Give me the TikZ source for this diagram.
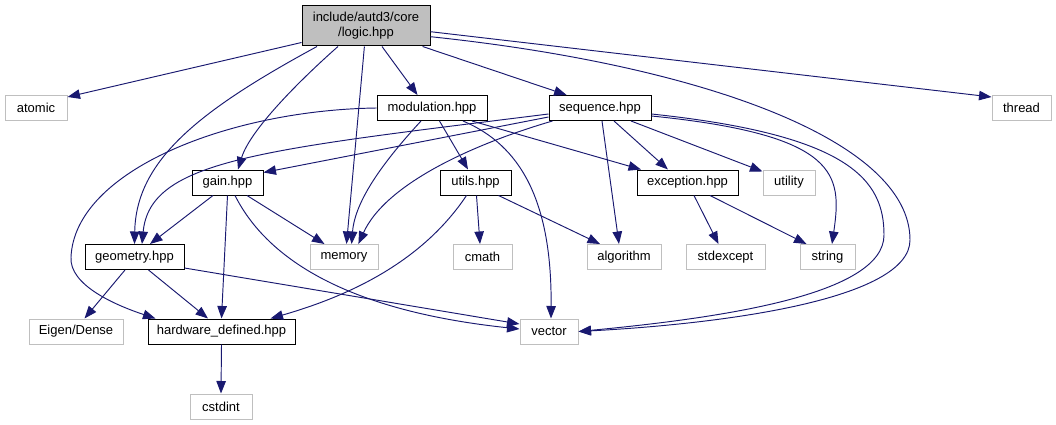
\documentclass[tikz,border=0pt]{standalone}
\usepackage{fontspec}
\setmainfont{Liberation Sans}
\usetikzlibrary{arrows.meta}
\definecolor{edgeblue}{HTML}{191970}
\definecolor{greyline}{HTML}{BFBFBF}
\begin{document}
\begin{tikzpicture}[x=1pt,y=-1pt,
  box/.style={draw=black, line width=1pt, fill=white, inner sep=0pt, minimum height=25pt, font=\fontsize{13}{15}\selectfont},
  sysbox/.style={box, draw=greyline},
  rootbox/.style={box, fill=greyline, minimum height=40pt, align=center},
  e/.style={draw=edgeblue, line width=0.95pt, -{Triangle[length=12.5pt,width=9.5pt]}}]
\useasboundingbox (0,0) rectangle (1056,425);
% nodes
\node[rootbox, minimum width=128pt] (logic) at (366,26) {include/autd3/core\\/logic.hpp};
\node[sysbox, minimum width=62pt] (atomic) at (36,108) {atomic};
\node[box, minimum width=110pt] (modulation) at (432,108) {modulation.hpp};
\node[box, minimum width=102pt] (sequence) at (600,108) {sequence.hpp};
\node[sysbox, minimum width=59pt] (thread) at (1021.5,108) {thread};
\node[box, minimum width=71pt] (gain) at (227.5,182.5) {gain.hpp};
\node[box, minimum width=71pt] (utils) at (475.5,182.5) {utils.hpp};
\node[box, minimum width=101pt] (exception) at (687.5,182.5) {exception.hpp};
\node[sysbox, minimum width=52pt] (utility) at (789,182.5) {utility};
\node[box, minimum width=99pt] (geometry) at (134.5,257) {geometry.hpp};
\node[sysbox, minimum width=68pt] (memory) at (344,257) {memory};
\node[sysbox, minimum width=59pt] (cmath) at (482.5,257) {cmath};
\node[sysbox, minimum width=74pt] (algorithm) at (624,257) {algorithm};
\node[sysbox, minimum width=79pt] (stdexcept) at (725.5,257) {stdexcept};
\node[sysbox, minimum width=55pt] (string) at (827.5,257) {string};
\node[sysbox, minimum width=94pt] (eigen) at (76,331.5) {Eigen/Dense};
\node[box, minimum width=147pt] (hardware) at (221.5,331.5) {hardware\_defined.hpp};
\node[sysbox, minimum width=58pt] (vector) at (549,331.5) {vector};
\node[sysbox, minimum width=62pt] (cstdint) at (221,406.5) {cstdint};
% logic edges
\draw[e] ([yshift=4pt]logic.south west) -- ([yshift=-2pt]atomic.north east);
\draw[e] ([xshift=-49pt]logic.south) .. controls (200,110) and (136,160) .. (geometry.north);
\draw[e] ([xshift=-28pt]logic.south) .. controls (300,80) and (250,130) .. ([xshift=10.5pt]gain.north);
\draw[e] ([xshift=-1.6pt]logic.south) -- ([xshift=2.5pt]memory.north);
\draw[e] ([xshift=16pt]logic.south) -- ([xshift=-14.5pt]modulation.north);
\draw[e] ([xshift=56.6pt]logic.south) -- ([xshift=-33.4pt]sequence.north);
\draw[e] ([yshift=-5.7pt]logic.east) -- ([yshift=-2pt]thread.north west);
\draw[e] ([yshift=-10.7pt]logic.east) .. controls (700,65) and (910,140) .. (910,240) .. controls (910,300) and (720,324) .. (vector.east);
% sequence edges
\draw[e] ([yshift=-8pt]sequence.east) .. controls (840,135) and (842,175) .. ([xshift=4.5pt]string.north);
\draw[e] ([yshift=-6pt]sequence.east) .. controls (850,135) and (884,180) .. (884,235) .. controls (884,295) and (720,318) .. (vector.east);
\draw[e] ([yshift=-9pt]sequence.west) -- ([yshift=-3pt]gain.north east);
\draw[e] ([yshift=-6pt]sequence.west) .. controls (260,150) and (150,160) .. ([xshift=7.5pt]geometry.north);
\draw[e] ([xshift=4pt]sequence.south west) .. controls (470,145) and (385,185) .. ([xshift=14.4pt]memory.north);
\draw[e] ([xshift=2pt]sequence.south) -- ([xshift=-5pt]algorithm.north);
\draw[e] ([xshift=14pt]sequence.south) -- ([xshift=-19.5pt]exception.north);
\draw[e] ([xshift=31pt]sequence.south) -- ([yshift=-2pt]utility.north west);
% modulation edges
\draw[e] (modulation.west) .. controls (230,110) and (75,170) .. (71,257) .. controls (69,285) and (115,305) .. ([xshift=-66pt]hardware.north);
\draw[e] ([xshift=-11pt]modulation.south) .. controls (385,160) and (355,200) .. ([xshift=7.6pt]memory.north);
\draw[e] ([xshift=7.5pt]modulation.south) -- ([xshift=-7.5pt]utils.north);
\draw[e] ([xshift=31pt]modulation.south) .. controls (520,145) and (552,200) .. ([xshift=2pt]vector.north);
\draw[e] ([xshift=40pt]modulation.south) -- ([xshift=-46.5pt]exception.north);
% gain edges
\draw[e] ([xshift=-14.5pt]gain.south) -- ([xshift=15.5pt]geometry.north);
\draw[e] (gain.south) -- (hardware.north);
\draw[e] ([xshift=19.5pt]gain.south) -- ([xshift=-19.5pt]memory.north);
\draw[e] ([xshift=7.5pt]gain.south) .. controls (265,255) and (340,310) .. ([yshift=2.5pt]vector.west);
% utils edges
\draw[e] ([xshift=-9pt]utils.south) .. controls (430,250) and (370,290) .. ([xshift=49pt]hardware.north);
\draw[e] ([xshift=1pt]utils.south) -- ([xshift=-2.5pt]cmath.north);
\draw[e] ([xshift=23pt]utils.south) -- ([xshift=-24pt]algorithm.north);
% exception edges
\draw[e] ([xshift=6.5pt]exception.south) -- ([xshift=-7pt]stdexcept.north);
\draw[e] ([xshift=22.5pt]exception.south) -- ([xshift=-21pt]string.north);
% geometry edges
\draw[e] ([xshift=-9.5pt]geometry.south) -- ([xshift=8.5pt]eigen.north);
\draw[e] ([xshift=14pt]geometry.south) -- ([xshift=-13.5pt]hardware.north);
\draw[e] ([yshift=-11pt]geometry.east) -- ([yshift=7.5pt]vector.west);
% hardware edge
\draw[e] (hardware.south) -- (cstdint.north);
\end{tikzpicture}
\end{document}
